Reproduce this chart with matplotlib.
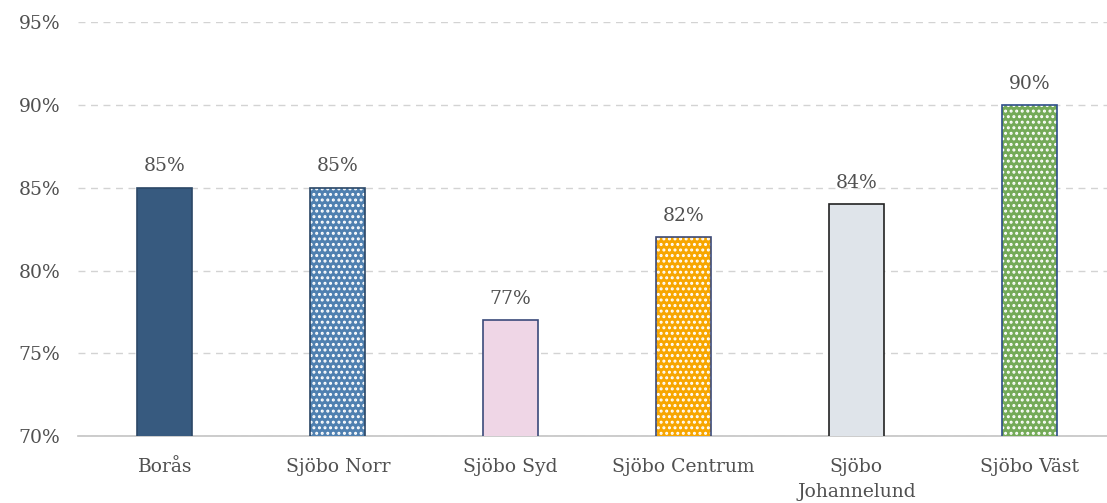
import matplotlib
matplotlib.use('Agg')
import matplotlib.pyplot as plt

categories = ['Borås', 'Sjöbo Norr', 'Sjöbo Syd', 'Sjöbo Centrum', 'Sjöbo\nJohannelund', 'Sjöbo Väst']
values = [85, 85, 77, 82, 84, 90]
face_colors = ['#375a7f', '#4f80b0', '#efd6e6', '#f7a600', '#dfe4ea', '#74aa58']
edge_colors = ['#2b4766', '#2b4766', '#3b4a7a', '#3b4a7a', '#222222', '#2f4f8a']
hatches = ['', '...', '', '...', '', '...']
yticks = [70, 75, 80, 85, 90, 95]

plt.rcParams['font.family'] = ['DejaVu Serif']
plt.rcParams['hatch.linewidth'] = 1.4

fig = plt.figure(figsize=(11.07, 5.03), dpi=100)
ax = fig.add_axes([0.0709, 0.133, 0.937, 0.823])

x = range(len(categories))
ax.bar(x, values, width=0.318, color=face_colors, edgecolor='white', linewidth=0,
       hatch=hatches, zorder=3)
ax.bar(x, values, width=0.318, fill=False, edgecolor=edge_colors, linewidth=1.2, zorder=4)

for i, v in enumerate(values):
    ax.text(i, v + 0.75, f'{v}%', ha='center', va='bottom', fontsize=13.5, color='#505050')

ax.set_ylim(70, 95)
ax.set_xlim(-0.5, len(categories) - 0.5)
ax.set_yticks(yticks)
ax.set_yticklabels([f'{t}%' for t in yticks])
ax.set_xticks(list(x))
ax.set_xticklabels(categories, linespacing=1.5)
ax.tick_params(axis='both', length=0, labelsize=13.5, labelcolor='#505050')
ax.tick_params(axis='y', pad=13)
ax.tick_params(axis='x', pad=16)
ax.yaxis.grid(True, linestyle=(0, (5, 4)), color='#d3d3d3', linewidth=1, zorder=0)
for side in ['top', 'right', 'left']:
    ax.spines[side].set_visible(False)
ax.spines['bottom'].set_color('#c4c4c4')
ax.spines['bottom'].set_linewidth(1.2)

fig.savefig('out.png', dpi=100)
